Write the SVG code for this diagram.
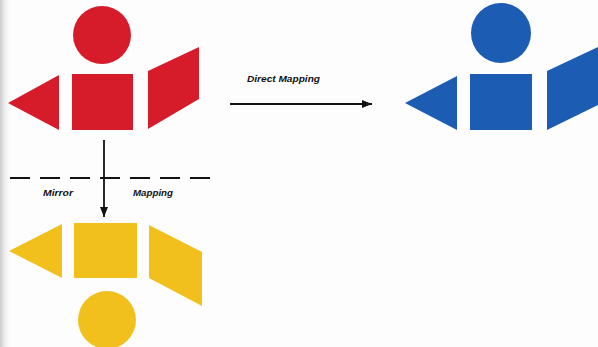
<svg xmlns="http://www.w3.org/2000/svg" width="598" height="347" viewBox="0 0 598 347">
<defs>
<style>
.red{fill:#d61c2b}
.blue{fill:#1c5db3}
.yellow{fill:#f2c01c}
.lbl{font-family:"Liberation Sans",Arial,sans-serif;font-style:italic;font-weight:bold;font-size:9.5px;fill:#111}
.ln{stroke:#111;stroke-width:1.8;fill:none}
</style>
<marker id="ah" viewBox="0 0 10 8" refX="10" refY="4" markerWidth="10" markerHeight="8" markerUnits="userSpaceOnUse" orient="auto">
<path d="M0,0 L10,4 L0,8 Z" fill="#111"/>
</marker>
<linearGradient id="shade" x1="0" x2="1" y1="0" y2="0">
<stop offset="0" stop-color="#bdbdbd" stop-opacity="0.8"/>
<stop offset="1" stop-color="#ffffff" stop-opacity="0"/>
</linearGradient>
</defs>
<rect width="598" height="347" fill="#fdfdfd"/>
<rect x="0" y="0" width="12" height="347" fill="url(#shade)"/>

<g id="red-set">
<circle id="red-circle" class="red" cx="102" cy="35" r="29"/>
<polygon id="red-triangle" class="red" points="8,103 59,75 59,130"/>
<rect id="red-square" class="red" x="72" y="74" width="61" height="56"/>
<polygon id="red-parallelogram" class="red" points="148,71 199,47 199,99 148,129"/>
</g>

<g id="blue-set">
<circle id="blue-circle" class="blue" cx="501" cy="33" r="30"/>
<polygon id="blue-triangle" class="blue" points="405,103 457,76 457,130"/>
<rect id="blue-square" class="blue" x="470" y="74" width="62" height="56"/>
<polygon id="blue-parallelogram" class="blue" points="547,71 600,46 600,104 547,130"/>
</g>

<g id="yellow-set">
<polygon id="yellow-triangle" class="yellow" points="9,251 62,224 62,278"/>
<rect id="yellow-square" class="yellow" x="74" y="223" width="63" height="55"/>
<polygon id="yellow-parallelogram" class="yellow" points="149,225 202,252 202,306 149,278"/>
<circle id="yellow-circle" class="yellow" cx="107" cy="320" r="29"/>
</g>

<g id="connectors">
<line id="mirror-axis" x1="10" y1="178" x2="213" y2="178" stroke="#111" stroke-width="2" stroke-dasharray="20 10"/>
<line id="arrow-direct" class="ln" x1="230" y1="104" x2="372" y2="104" marker-end="url(#ah)"/>
<line id="arrow-mirror" class="ln" x1="104" y1="140" x2="104" y2="217" marker-end="url(#ah)"/>
</g>

<g id="labels">
<text class="lbl" x="247" y="82" textLength="73" lengthAdjust="spacingAndGlyphs">Direct Mapping</text>
<text class="lbl" x="43" y="196" textLength="30" lengthAdjust="spacingAndGlyphs">Mirror</text>
<text class="lbl" x="133" y="196" textLength="40" lengthAdjust="spacingAndGlyphs">Mapping</text>
</g>
</svg>
